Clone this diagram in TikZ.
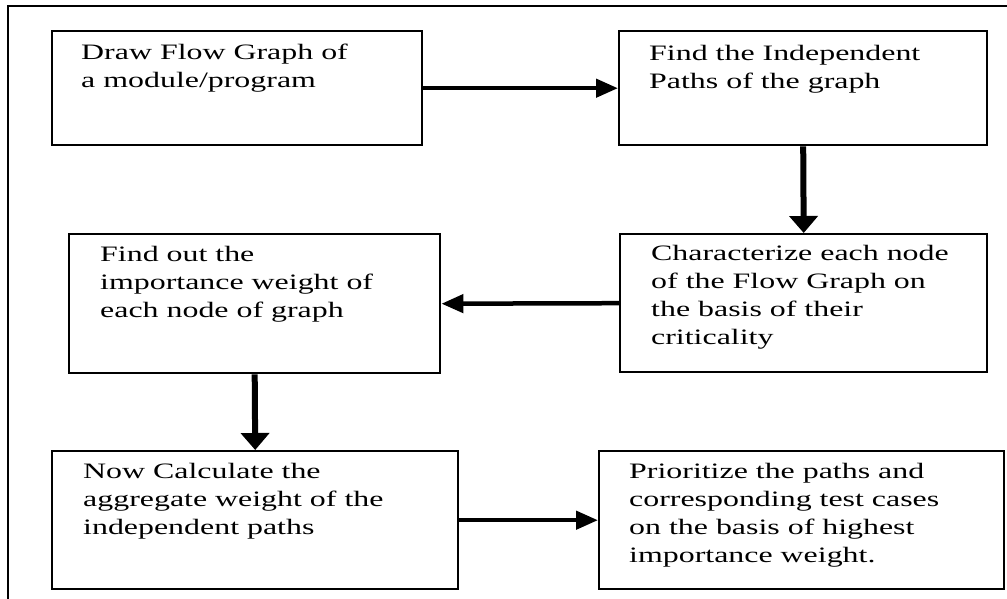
\documentclass[tikz,border=0pt]{standalone}
\usepackage{fontspec}
\newfontfamily\bodyfont{Liberation Serif}[FakeStretch=1.45]
\usetikzlibrary{arrows.meta,calc}
\tikzset{
  box/.style={draw, line width=2.4pt, inner sep=0pt, anchor=north west},
  txt/.style={inner sep=0pt, anchor=north west, align=left, font=\bodyfont\fontsize{22}{28}\selectfont},
  harrow/.style={line width=4.5pt, -{Triangle[length=22pt,width=18pt]}},
  varrow/.style={line width=6pt, -{Triangle[length=17pt,width=28pt]}},
  frame/.style={line width=2pt}
}
\begin{document}
\begin{tikzpicture}[x=1pt,y=-1pt]
\useasboundingbox (0,0) rectangle (1007,599);
\coordinate (fr1) at (1007,6);
\coordinate (fr2) at (8,6);
\coordinate (fr3) at (8,599);
\draw[frame] (fr1) -- (fr2) -- (fr3);

\node[box, minimum width=370pt, minimum height=114pt] (b1) at (51,30) {};
\node[box, minimum width=368pt, minimum height=114pt] (b2) at (618,30) {};
\node[box, minimum width=367pt, minimum height=138pt] (b3) at (619,233) {};
\node[box, minimum width=371pt, minimum height=139pt] (b4) at (68,233) {};
\node[box, minimum width=406pt, minimum height=138pt] (b5) at (51,450) {};
\node[box, minimum width=405pt, minimum height=138pt] (b6) at (598,450) {};

\node[txt] (t1) at ($(b1.north west)+(30,14)$) {Draw Flow Graph of\\a module/program};
\node[txt] (t2) at ($(b2.north west)+(31,15)$) {Find the Independent\\Paths of the graph};
\node[txt] (t3) at ($(b3.north west)+(32,12)$) {Characterize each node\\of the Flow Graph on\\the basis of their\\criticality};
\node[txt] (t4) at ($(b4.north west)+(32,13)$) {Find out the\\importance weight of\\each node of graph};
\node[txt] (t5) at ($(b5.north west)+(32,13)$) {Now Calculate the\\aggregate weight of the\\independent paths};
\node[txt] (t6) at ($(b6.north west)+(31,13)$) {Prioritize the paths and\\corresponding test cases\\on the basis of highest\\importance weight.};

\draw[harrow] (b1.east) -- (b2.west);
\draw[varrow] (b2.south) -- (b3.north);
\draw[harrow] (b3.west) -- (b4.east);
\draw[varrow] (b4.south) -- (b5.north);
\draw[harrow] (b5.east) -- (b6.west);
\end{tikzpicture}
\end{document}
